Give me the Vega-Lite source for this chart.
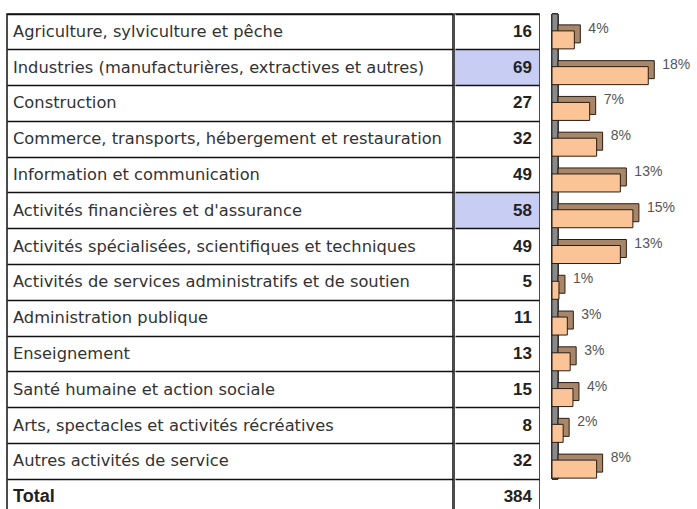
{
  "$schema": "https://vega.github.io/schema/vega-lite/v6.json",
  "background": "white",
  "padding": {"left": 6, "top": 13, "right": 0, "bottom": 0},
  "config": {
    "view": {"stroke": "#111", "strokeWidth": 1.5},
    "font": "Liberation Sans",
    "axisY": {"grid": true, "bandPosition": 0, "labels": false, "ticks": false, "domain": false, "title": null, "gridColor": "#111", "gridWidth": 1.3, "gridOpacity": 1}
  },
  "datasets": {
    "rows": [
      {"secteur": "Agriculture, sylviculture et pêche", "n": 16, "part": 0.0417, "kind": "secteur"},
      {"secteur": "Industries (manufacturières, extractives et autres)", "n": 69, "part": 0.1797, "kind": "secteur"},
      {"secteur": "Construction", "n": 27, "part": 0.0703, "kind": "secteur"},
      {"secteur": "Commerce, transports, hébergement et restauration", "n": 32, "part": 0.0833, "kind": "secteur"},
      {"secteur": "Information et communication", "n": 49, "part": 0.1276, "kind": "secteur"},
      {"secteur": "Activités financières et d'assurance", "n": 58, "part": 0.151, "kind": "secteur"},
      {"secteur": "Activités spécialisées, scientifiques et techniques", "n": 49, "part": 0.1276, "kind": "secteur"},
      {"secteur": "Activités de services administratifs et de soutien", "n": 5, "part": 0.013, "kind": "secteur"},
      {"secteur": "Administration publique", "n": 11, "part": 0.0286, "kind": "secteur"},
      {"secteur": "Enseignement", "n": 13, "part": 0.0339, "kind": "secteur"},
      {"secteur": "Santé humaine et action sociale", "n": 15, "part": 0.0391, "kind": "secteur"},
      {"secteur": "Arts, spectacles et activités récréatives", "n": 8, "part": 0.0208, "kind": "secteur"},
      {"secteur": "Autres activités de service", "n": 32, "part": 0.0833, "kind": "secteur"},
      {"secteur": "Total", "n": 384, "kind": "total"}
    ]
  },
  "spacing": 11,
  "hconcat": [
    {
      "spacing": 0,
      "hconcat": [
        {
          "width": 446,
          "height": 501,
          "data": {"name": "rows"},
          "encoding": {
            "y": {"field": "secteur", "type": "nominal", "sort": null, "scale": {"type": "band", "paddingInner": 0, "paddingOuter": 0}}
          },
          "layer": [
            {
              "transform": [{"filter": "datum.kind === 'secteur'"}],
              "mark": {"type": "text", "align": "left", "baseline": "middle", "dx": 6, "font": "DejaVu Sans", "fontSize": 16.3, "color": "#333"},
              "encoding": {
                "x": {"datum": 0, "type": "quantitative", "scale": {"domain": [0, 1]}, "axis": null},
                "text": {"field": "secteur"}
              }
            },
            {
              "transform": [{"filter": "datum.kind === 'total'"}],
              "mark": {"type": "text", "align": "left", "baseline": "middle", "dx": 6, "font": "Liberation Sans", "fontSize": 18, "fontWeight": "bold", "color": "#222"},
              "encoding": {
                "x": {"datum": 0, "type": "quantitative"},
                "text": {"field": "secteur"}
              }
            }
          ]
        },
        {
          "width": 84,
          "height": 501,
          "data": {"name": "rows"},
          "encoding": {
            "y": {"field": "secteur", "type": "nominal", "sort": null, "scale": {"type": "band", "paddingInner": 0, "paddingOuter": 0}}
          },
          "layer": [
            {
              "mark": {"type": "rect"},
              "encoding": {
                "x": {"datum": 0, "type": "quantitative", "scale": {"domain": [0, 1]}, "axis": null},
                "x2": {"datum": 1},
                "fill": {"condition": {"test": "datum.n >= 58 && datum.kind === 'secteur'", "value": "#C8CDF3"}, "value": "#ffffff"}
              }
            },
            {
              "mark": {"type": "text", "align": "right", "baseline": "middle", "dx": -7, "fontSize": 17, "fontWeight": "bold", "color": "#222"},
              "encoding": {
                "x": {"datum": 1, "type": "quantitative"},
                "text": {"field": "n", "type": "quantitative"}
              }
            }
          ]
        }
      ]
    },
    {
      "width": 150,
      "height": 465,
      "view": {"stroke": null},
      "data": {"name": "rows"},
      "transform": [{"filter": "datum.kind === 'secteur'"}],
      "encoding": {
        "y": {"field": "secteur", "type": "nominal", "sort": null, "scale": {"type": "band", "paddingInner": 0, "paddingOuter": 0}, "axis": null}
      },
      "layer": [
        {
          "mark": {"type": "rect", "fill": "#8a8a8a", "stroke": "#333", "strokeWidth": 1},
          "encoding": {
            "y": null,
            "x": {"datum": 0, "type": "quantitative", "scale": {"domain": [0, 0.276]}, "axis": null},
            "x2": {"datum": 0.011}
          }
        },
        {
          "mark": {"type": "bar", "height": 18, "yOffset": 2, "xOffset": 6, "x2Offset": 6, "fill": "#A8866A", "stroke": "#2b1d14", "strokeWidth": 1},
          "encoding": {
            "x": {"field": "part", "type": "quantitative"}
          }
        },
        {
          "mark": {"type": "bar", "height": 18, "yOffset": 8, "fill": "#FAC496", "stroke": "#2b1d14", "strokeWidth": 1},
          "encoding": {
            "x": {"field": "part", "type": "quantitative"}
          }
        },
        {
          "mark": {"type": "text", "align": "left", "baseline": "middle", "dx": 14, "dy": -3, "fontSize": 14, "color": "#555"},
          "encoding": {
            "x": {"field": "part", "type": "quantitative"},
            "text": {"field": "part", "type": "quantitative", "format": ".0%"}
          }
        }
      ]
    }
  ]
}
